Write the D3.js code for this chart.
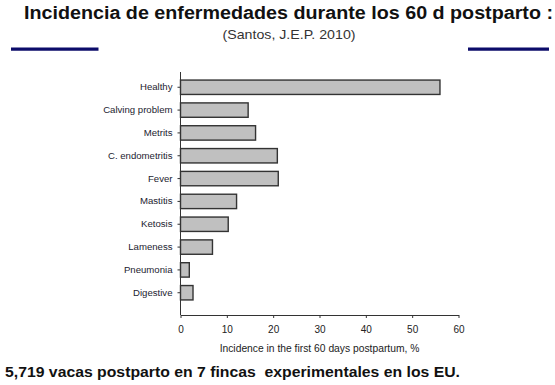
<!DOCTYPE html>
<html>
<head>
<meta charset="utf-8">
<script src="https://cdn.jsdelivr.net/npm/d3@7/dist/d3.min.js"></script>
<style>
	body { margin: 0; background: #fff; }
	svg { display: block; font-family: "Liberation Sans", Arial, sans-serif; }
</style>
</head>
<body>
<main></main>
<script>
// DATA
const categories = ["Healthy", "Calving problem", "Metrits", "C. endometritis", "Fever",
	"Mastitis", "Ketosis", "Lameness", "Pneumonia", "Digestive"];
const incidence = [56, 14.6, 16.2, 20.9, 21.1, 12.1, 10.3, 6.9, 1.9, 2.7];
const xTicks = [0, 10, 20, 30, 40, 50, 60];
const titleText = "Incidencia de enfermedades durante los 60 d postparto :";
const subtitleText = "(Santos, J.E.P. 2010)";
const xLabel = "Incidence in the first 60 days postpartum, %";
const footText = "5,719 vacas postparto en 7 fincas  experimentales en los EU.";

// chart dimension
const w = 555;
const h = 385;
const plot = { left: 180.5, right: 458.5, top: 72, bottom: 315 };

const svg = d3.select("main").append("svg")
	.attr("width", w)
	.attr("height", h);

// title + subtitle (slide text is a bit stretched, so fit widths)
svg.append("text")
	.attr("x", 24)
	.attr("y", 18.5)
	.attr("font-size", 17.5)
	.attr("font-weight", "bold")
	.attr("fill", "#111")
	.attr("textLength", 529)
	.attr("lengthAdjust", "spacingAndGlyphs")
	.text(titleText);
svg.append("text")
	.attr("x", 222.5)
	.attr("y", 38.5)
	.attr("font-size", 13.5)
	.attr("fill", "#333")
	.attr("textLength", 133)
	.attr("lengthAdjust", "spacingAndGlyphs")
	.text(subtitleText);

// navy rules
[[11, 98.5], [468, 549]].forEach(([a, b]) => {
	svg.append("line")
		.attr("x1", a).attr("x2", b)
		.attr("y1", 49.2).attr("y2", 49.2)
		.attr("stroke", "#0c0c6a")
		.attr("stroke-width", 3.2);
});

// scales
const xScale = d3.scaleLinear()
	.domain([0, 60])
	.range([plot.left, plot.right]);
const yScale = d3.scaleBand()
	.domain(categories)
	.range([75.5, 304.5])
	.paddingInner(0.37)
	.paddingOuter(0.2);

// bars
svg.selectAll("rect.bar")
	.data(categories)
	.enter()
	.append("rect")
		.attr("class", "bar")
		.attr("x", xScale(0))
		.attr("y", d => yScale(d))
		.attr("width", (d, i) => xScale(incidence[i]) - xScale(0))
		.attr("height", yScale.bandwidth())
		.attr("fill", "#c0c0c0")
		.attr("stroke", "#333")
		.attr("stroke-width", 1.4);

// axes
const xAxis = d3.axisBottom(xScale)
	.tickValues(xTicks)
	.tickSize(3)
	.tickPadding(8)
	.tickSizeOuter(0);
const gx = svg.append("g")
	.attr("transform", `translate(0, ${plot.bottom})`)
	.call(xAxis);
gx.selectAll("text").attr("font-size", 10).attr("fill", "#222");
gx.selectAll("line, path").attr("stroke", "#333");

const yAxis = d3.axisLeft(yScale)
	.tickSize(3)
	.tickPadding(5)
	.tickSizeOuter(0);
const gy = svg.append("g")
	.attr("transform", `translate(${plot.left}, 0)`)
	.call(yAxis);
gy.select(".domain").remove();
gy.append("line")
	.attr("x1", 0).attr("x2", 0)
	.attr("y1", plot.top).attr("y2", plot.bottom)
	.attr("stroke", "#333");
gy.selectAll("text").attr("font-size", 9.6).attr("fill", "#1c1c30");
gy.selectAll("line").attr("stroke", "#333");

// axis title
svg.append("text")
	.attr("x", (plot.left + plot.right) / 2)
	.attr("y", 351.5)
	.attr("text-anchor", "middle")
	.attr("font-size", 10.3)
	.attr("fill", "#222")
	.text(xLabel);

// footnote
svg.append("text")
	.attr("x", 5)
	.attr("y", 377.3)
	.attr("font-size", 15)
	.attr("font-weight", "bold")
	.attr("fill", "#111")
	.attr("xml:space", "preserve")
	.style("white-space", "pre")
	.attr("textLength", 455)
	.attr("lengthAdjust", "spacingAndGlyphs")
	.text(footText);
</script>
</body>
</html>
